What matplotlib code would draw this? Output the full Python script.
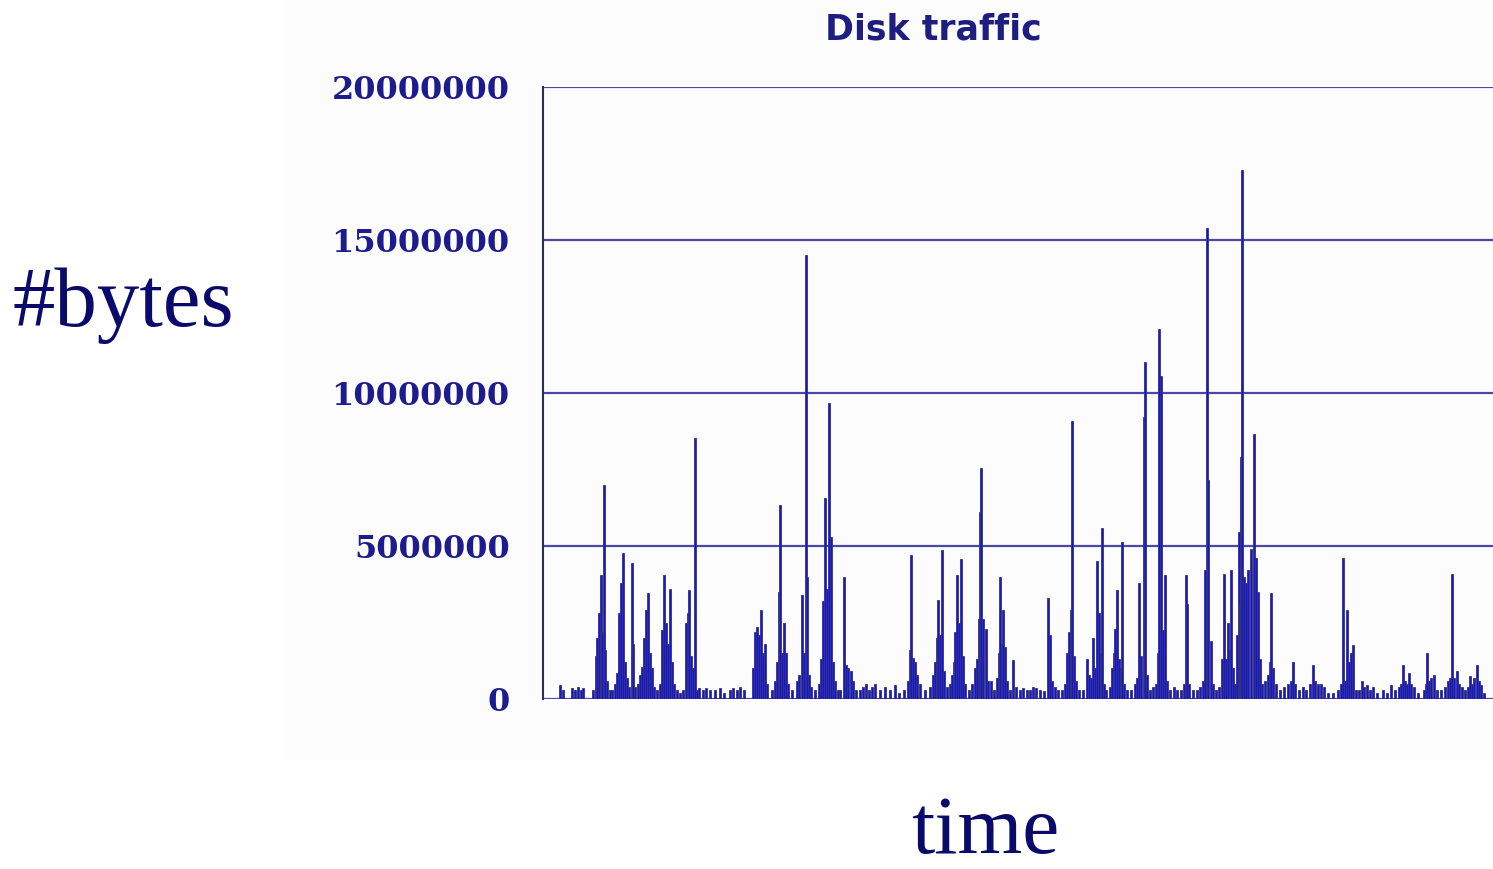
import matplotlib
matplotlib.use("Agg")
import matplotlib.pyplot as plt
from matplotlib.patches import Rectangle

# ---- data (time index, bytes in millions) ----
time_idx = [
    17, 20, 29, 32, 35, 38, 40, 50, 53, 54,
    56, 58, 59, 61, 62, 64, 67, 69, 72, 74,
    76, 78, 80, 82, 84, 86, 89, 90, 92, 95,
    97, 99, 101, 103, 105, 107, 109, 111, 114, 117,
    119, 121, 123, 125, 127, 129, 131, 134, 137, 140,
    143, 145, 146, 148, 150, 152, 154, 156, 160, 163,
    167, 172, 177, 181, 187, 190, 194, 197, 201, 210,
    212, 214, 216, 218, 220, 222, 224, 229, 232, 234,
    236, 237, 239, 241, 243, 245, 249, 254, 256, 259,
    261, 263, 264, 266, 268, 272, 276, 278, 280, 282,
    284, 286, 288, 290, 292, 295, 297, 301, 303, 305,
    308, 310, 313, 317, 320, 323, 326, 329, 332, 337,
    342, 347, 352, 356, 361, 365, 367, 368, 370, 372,
    374, 377, 382, 387, 390, 392, 394, 395, 397, 399,
    401, 404, 407, 409, 411, 412, 414, 416, 418, 420,
    422, 426, 429, 432, 434, 436, 437, 438, 440, 443,
    445, 448, 451, 454, 456, 457, 459, 460, 462, 464,
    467, 470, 473, 477, 480, 484, 487, 490, 493, 497,
    501, 505, 507, 509, 512, 515, 519, 522, 524, 526,
    528, 529, 531, 533, 536, 540, 544, 546, 548, 550,
    552, 554, 556, 558, 559, 561, 563, 567, 569, 571,
    572, 574, 576, 578, 579, 581, 584, 588, 592, 594,
    596, 598, 601, 602, 604, 607, 610, 613, 615, 616,
    618, 620, 622, 624, 627, 631, 634, 638, 641, 643,
    644, 646, 650, 654, 657, 660, 662, 664, 665, 668,
    670, 673, 676, 679, 681, 683, 685, 687, 688, 690,
    692, 694, 696, 697, 698, 699, 701, 703, 705, 708,
    711, 713, 715, 717, 719, 722, 725, 727, 728, 730,
    733, 737, 741, 745, 748, 750, 752, 756, 760, 763,
    767, 770, 772, 775, 778, 781, 785, 790, 795, 798,
    800, 802, 804, 806, 808, 810, 813, 816, 819, 821,
    824, 827, 830, 834, 840, 844, 848, 852, 856, 858,
    860, 862, 864, 866, 868, 871, 875, 881, 883, 884,
    886, 888, 891, 894, 898, 902, 905, 907, 909, 911,
    914, 916, 919, 922, 925, 927, 929, 931, 934, 936,
    938, 941,
]
bytes_m = [
    0.45, 0.30, 0.35, 0.30, 0.38, 0.30, 0.35, 0.30, 1.40, 2.00,
    2.80, 4.05, 2.20, 7.00, 1.60, 0.60, 0.30, 0.30, 0.50, 0.85,
    2.80, 3.80, 4.77, 1.20, 0.70, 0.40, 4.44, 1.80, 0.40, 0.50,
    0.80, 1.05, 2.00, 2.90, 3.46, 1.50, 1.00, 0.40, 0.30, 0.50,
    2.25, 4.05, 2.50, 1.80, 3.60, 1.20, 0.50, 0.30, 0.20, 0.30,
    2.50, 2.80, 3.56, 1.40, 1.00, 8.53, 0.30, 0.35, 0.30, 0.35,
    0.30, 0.30, 0.35, 0.20, 0.30, 0.35, 0.30, 0.40, 0.30, 1.00,
    2.20, 2.35, 2.10, 2.90, 1.50, 1.80, 0.50, 0.30, 0.60, 1.20,
    3.50, 6.34, 1.50, 2.50, 1.50, 0.50, 0.30, 0.60, 0.80, 3.40,
    1.50, 14.50, 4.00, 0.80, 0.40, 0.30, 0.50, 1.30, 3.20, 6.57,
    3.60, 9.67, 5.30, 1.20, 0.60, 0.30, 0.30, 4.00, 1.10, 1.00,
    0.90, 0.60, 0.30, 0.30, 0.40, 0.50, 0.30, 0.40, 0.50, 0.30,
    0.40, 0.30, 0.45, 0.20, 0.30, 0.60, 1.60, 4.70, 1.35, 1.20,
    0.80, 0.50, 0.30, 0.40, 0.80, 1.20, 2.00, 3.24, 2.10, 4.87,
    0.90, 0.40, 0.50, 0.80, 1.20, 2.20, 4.05, 2.50, 4.57, 1.40,
    0.50, 0.30, 0.50, 1.00, 1.30, 2.60, 6.10, 7.55, 2.60, 2.30,
    0.60, 0.60, 0.30, 0.70, 1.50, 4.00, 1.80, 2.90, 1.70, 0.60,
    0.30, 1.27, 0.40, 0.30, 0.35, 0.30, 0.30, 0.40, 0.35, 0.30,
    0.25, 3.30, 2.10, 0.60, 0.40, 0.30, 0.30, 0.50, 1.50, 2.20,
    2.90, 9.10, 1.40, 0.60, 0.30, 0.30, 1.30, 0.80, 0.70, 2.00,
    1.00, 4.50, 2.80, 1.50, 5.60, 0.50, 0.30, 0.40, 1.00, 1.50,
    2.30, 3.56, 1.30, 1.00, 5.13, 0.50, 0.30, 0.30, 0.50, 0.70,
    3.80, 1.40, 9.20, 11.00, 0.80, 0.30, 0.40, 0.50, 1.50, 12.10,
    10.55, 2.25, 4.05, 0.60, 0.30, 0.40, 0.30, 0.30, 0.50, 4.05,
    3.10, 0.50, 0.30, 0.30, 0.40, 0.60, 4.20, 15.40, 7.15, 1.90,
    0.50, 0.30, 0.40, 1.30, 4.10, 1.30, 2.50, 1.60, 4.20, 1.00,
    0.50, 2.10, 5.45, 3.10, 7.90, 17.30, 4.00, 3.80, 4.20, 4.90,
    8.65, 4.60, 3.50, 1.30, 0.50, 0.60, 0.80, 1.20, 3.46, 1.00,
    0.50, 0.30, 0.40, 0.50, 0.60, 1.20, 0.50, 0.30, 0.40, 0.30,
    0.50, 1.10, 0.60, 0.50, 0.50, 0.40, 0.20, 0.20, 0.30, 0.50,
    4.60, 0.60, 2.90, 1.20, 1.50, 1.75, 0.30, 0.30, 0.60, 0.40,
    0.45, 0.30, 0.40, 0.20, 0.30, 0.20, 0.45, 0.30, 0.40, 0.50,
    1.10, 0.60, 0.50, 0.85, 0.50, 0.40, 0.20, 0.30, 0.50, 1.50,
    0.60, 0.70, 0.80, 0.30, 0.30, 0.40, 0.60, 0.70, 4.10, 0.70,
    0.90, 0.50, 0.40, 0.30, 0.40, 0.75, 0.50, 0.70, 1.10, 0.60,
    0.45, 0.20,
]
y_ticks = [0, 5000000, 10000000, 15000000, 20000000]
y_tick_labels = ["0", "5000000", "10000000", "15000000", "20000000"]
title_text = "Disk traffic"
y_label = "#bytes"
x_label = "time"

values = [b * 1e6 for b in bytes_m]

fig = plt.figure(figsize=(14.93, 8.69), dpi=100)
fig.patch.set_facecolor("white")
# faint off-white backdrop of the embedded chart picture
fig.patches.append(Rectangle((285 / 1493, 1 - 760 / 869), 1 - 285 / 1493, 760 / 869,
                             transform=fig.transFigure, facecolor="#fcfcfc",
                             edgecolor="none", zorder=-10))

ax = fig.add_axes([543 / 1493, 1 - 699 / 869, 1 - 543 / 1493, (699 - 87) / 869])
ax.set_zorder(5)
ax.set_facecolor("none")
ax.set_xlim(0, 950)
ax.set_ylim(0, 20000000)

grid_color = "#4a4aa6"
for t in y_ticks:
    ax.axhline(t, color=grid_color, lw=1.6, zorder=1)

ax.bar(time_idx, values, width=1.7, color="#1616d2", edgecolor="#33337e",
       linewidth=0.6, zorder=2)

for s in ["top", "right", "bottom"]:
    ax.spines[s].set_visible(False)
ax.spines["left"].set_color("#2e2e55")
ax.spines["left"].set_linewidth(1.5)

ax.set_xticks([])
ax.set_yticks(y_ticks)
ax.set_yticklabels(y_tick_labels)
ax.tick_params(axis="y", length=0, pad=24)
for lbl in ax.get_yticklabels():
    lbl.set_fontfamily("DejaVu Serif")
    lbl.set_fontweight("bold")
    lbl.set_fontsize(23)
    lbl.set_color("#1c1c8e")

fig.text(933 / 1493, 1 - 29 / 869, title_text, ha="center", va="center",
         fontsize=25, fontweight="bold", family="DejaVu Sans", color="#1e1e82")
fig.text(123 / 1493, 1 - 305 / 869, y_label, ha="center", va="center",
         fontsize=61, family="Liberation Serif", color="#0a0a6a")
fig.text(985 / 1493, 1 - 853 / 869, x_label, ha="center", va="baseline",
         fontsize=60, family="Liberation Serif", color="#0a0a6a")

fig.savefig("out.png", dpi=100)
